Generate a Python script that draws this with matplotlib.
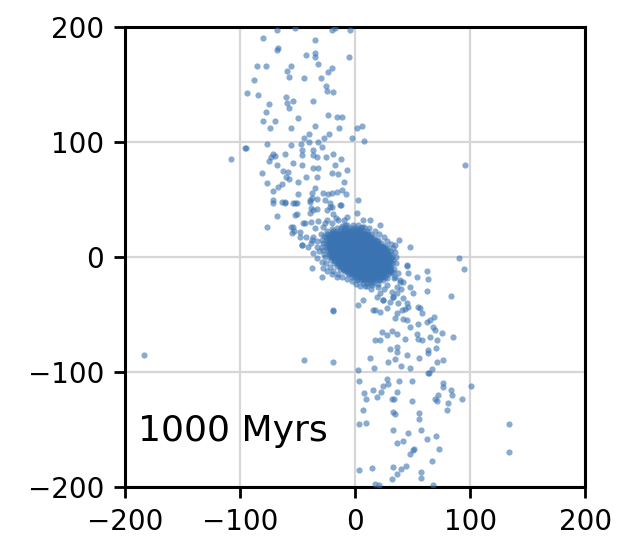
import matplotlib
matplotlib.use("Agg")
import matplotlib.pyplot as plt
import numpy as np

# outer points (x, y)
upper_arm = [
    (-68.1, 197.7), (-52.2, 198.9), (-20.3, 197.7), (-17.4, 198.9), (-4.3, 197.4),
    (-79.7, 190.2), (-34.8, 188.4), (-66.7, 182.0), (-68.1, 180.3), (-42.6, 175.7),
    (-34.8, 177.1), (-34.8, 174.2), (-4.9, 174.2), (-85.5, 166.1), (-77.7, 166.1),
    (-55.7, 166.1), (-58.8, 161.7), (-57.1, 156.8), (-31.9, 167.8), (-20.3, 164.6),
    (-23.7, 161.1), (-44.3, 155.4), (-29.8, 155.4), (-87.5, 153.6), (-25.2, 148.7),
    (-24.6, 144.3), (-18.9, 143.8), (-93.6, 142.3), (-84.1, 140.9), (-60.3, 139.4),
    (-54.2, 135.7), (-58.8, 134.2), (-57.1, 129.8), (-36.2, 135.7), (-74.5, 132.8),
    (-77.7, 126.4), (-23.7, 123.5), (-15.9, 121.7), (-11.0, 121.7), (-79.7, 118.6),
    (-69.6, 118.6), (-49.9, 120.9), (-73.9, 111.9), (-55.7, 112.2), (-34.8, 113.9),
    (-13.9, 112.2), (1.5, 111.9), (6.4, 113.9), (-39.7, 107.2), (-44.3, 103.7),
    (-22.3, 107.2), (-26.7, 103.7), (-2.9, 103.7), (8.1, 100.9), (-76.2, 98.5),
    (-47.2, 98.5), (-39.7, 99.7), (-31.9, 99.7), (-55.7, 97.4), (-96.0, 94.8),
    (-108.0, 85.0), (-81.0, 72.8), (-76.8, 64.6), (-76.8, 26.4),
    (-95.0, 94.5), (-29.0, 95.9), (-46.1, 93.0), (-36.2, 93.0), (-36.8, 88.7),
    (-46.4, 88.7), (-60.9, 89.6), (-71.0, 89.6), (-73.0, 87.2), (-69.6, 87.8),
    (-74.5, 83.8), (-68.1, 80.0), (-54.2, 81.4), (-45.8, 80.0), (-33.3, 86.7),
    (-25.2, 86.7), (-18.9, 89.6), (-12.2, 84.9), (-17.4, 80.0), (-36.2, 77.1),
    (-31.9, 77.1), (-62.9, 75.0), (-58.5, 74.2), (-42.6, 69.3), (-32.8, 69.3),
    (-20.3, 73.3), (-14.5, 72.2), (-6.7, 75.7), (-63.8, 63.5), (-66.7, 60.6),
    (-71.6, 57.7), (-60.0, 69.3), (-57.1, 67.8), (-49.3, 65.5), (-49.3, 54.8),
    (-37.1, 55.4), (-34.8, 59.7), (-28.1, 55.9), (-23.7, 54.8), (-20.3, 55.4),
    (-15.9, 56.8), (-11.0, 58.3), (-7.8, 54.8), (-9.3, 65.5), (-71.6, 49.6),
    (-71.6, 47.2), (-63.8, 48.1), (-60.9, 48.1), (-54.2, 46.7), (-50.7, 46.7),
    (-39.1, 49.6), (-37.1, 51.0), (-32.8, 50.2), (-26.1, 49.6), (-20.3, 43.8),
    (-21.7, 46.7), (-12.2, 45.2), (2.9, 49.6), (-50.7, 37.4), (-68.1, 35.7),
    (-38.3, 42.3), (-32.8, 41.7), (-39.1, 38.0), (-24.6, 40.9), (-18.9, 37.4),
    (-55.7, 25.8), (-52.8, 22.9), (-45.5, 29.9), (-38.3, 30.7), (-31.9, 31.3),
    (-24.6, 32.2), (-16.5, 33.6), (-9.3, 32.2), (-47.8, 17.7), (-42.6, 17.1),
    (-37.7, 14.8), (-45.8, 10.4), (-32.8, 8.4),
]

lower_arm = [
    (62.9, -11.9), (63.8, -19.4), (62.3, -29.3), (47.8, -26.4), (45.0, -7.8),
    (46.4, -14.2), (39.1, -21.4), (36.8, -31.6), (34.8, -17.7), (33.3, -12.8),
    (30.4, -9.0), (83.2, -33.9), (94.8, -10.7), (55.0, -43.8), (58.0, -48.4),
    (27.5, -44.6), (21.7, -47.5), (17.4, -46.1), (40.6, -46.1), (43.5, -45.5),
    (34.8, -53.3), (42.0, -54.2), (45.0, -54.8), (47.8, -61.2), (55.0, -58.3),
    (62.3, -56.2), (65.2, -54.8), (68.7, -51.9), (67.5, -60.6), (69.6, -63.5),
    (75.4, -65.8), (85.0, -69.3), (23.2, -64.9), (27.5, -67.8), (31.9, -64.1),
    (36.2, -66.9), (43.5, -71.3), (53.6, -66.9), (55.0, -71.3), (58.0, -72.2),
    (65.2, -69.3), (71.6, -72.2), (17.4, -72.2), (21.7, -72.2), (30.4, -80.3),
    (36.8, -78.5), (36.8, -82.3), (45.0, -85.2), (55.9, -88.1), (63.8, -80.9),
    (63.8, -83.8), (70.4, -78.8), (71.0, -91.0), (76.8, -89.6), (13.0, -88.1),
    (29.0, -91.0), (34.8, -88.9), (40.0, -94.8), (47.8, -96.0), (66.7, -97.7),
    (64.6, -100.6), (2.9, -41.7), (2.9, -98.3), (16.8, -96.0), (18.9, -35.0),
    (24.1, -37.4), (30.4, -38.9), (33.3, -35.0), (37.7, -39.7), (42.0, -36.0),
    (45.0, -40.3), (3.5, -107.6), (15.9, -115.7), (8.1, -118.5), (9.6, -123.5),
    (19.4, -122.0), (22.3, -117.1), (24.1, -112.2), (27.5, -106.1), (29.0, -110.4),
    (38.5, -107.6), (49.3, -107.6), (36.8, -117.1), (31.9, -123.5), (33.9, -123.5),
    (49.3, -125.2), (63.8, -101.1), (76.8, -109.3), (76.8, -113.3), (83.2, -115.7),
    (84.6, -120.0), (71.9, -120.0), (69.6, -123.5), (71.0, -125.0), (81.2, -126.7),
    (92.8, -123.5), (100.6, -112.2), (79.7, -133.0), (6.7, -133.0), (33.3, -135.0),
    (34.8, -136.5), (55.9, -135.9), (55.9, -140.9), (3.5, -145.5), (9.6, -144.1),
    (33.3, -150.4), (46.4, -153.3), (57.4, -150.4), (62.9, -158.3), (70.1, -155.4),
    (41.5, -160.0), (36.8, -161.5), (51.3, -166.4), (50.7, -167.8), (47.8, -171.3),
    (73.3, -166.4), (66.7, -177.4), (3.5, -185.2), (14.5, -183.7), (33.3, -182.3),
    (40.0, -184.6), (44.3, -181.4), (36.8, -188.7), (31.9, -193.3), (57.4, -186.7),
    (57.4, -191.6), (17.4, -196.8), (21.1, -198.3), (68.1, -198.3),
    (15.9, -46.1), (7.2, -37.4), (24.6, -37.4), (21.7, -31.6), (33.3, -34.5),
    (36.2, -25.8), (39.1, -20.0), (45.0, -7.0), (53.6, -17.1), (50.7, -31.6),
    (46.4, -43.2), (36.2, -49.0), (56.5, -44.6), (47.8, 9.0), (38.5, 14.8),
    (34.8, 10.4),
]

strays = [
    (-183.5, -85.0), (95.7, 80.0), (133.9, -145.5), (133.9, -169.6), (-44.3, -89.6),
    (-18.9, -91.6), (-18.9, -47.0), (90.7, -1.2), (-18.9, -46.0),
]

halo = [
    (-52.2, 46.7), (-60.9, 47.2), (-39.1, 48.1), (-21.7, 43.8), (-13.0, 45.2),
    (-36.2, 40.9), (-52.2, 36.5), (-43.5, 29.3), (-53.6, 26.4), (-55.0, 20.6),
    (-47.8, 22.0), (-36.2, 17.7), (-46.4, 10.4), (-40.6, 9.0), (-36.2, 3.2),
    (-33.3, -1.2), (-37.7, -9.8), (-27.5, -9.8), (-29.0, -17.1), (-15.9, -17.1),
    (21.7, 27.8), (13.0, 32.2), (7.2, 32.2), (5.8, 26.4), (-7.2, 35.1),
    (-8.7, 27.8), (1.4, 38.0), (30.0, -12.0), (34.0, -18.0), (28.0, -24.0),
    (37.0, -14.0), (25.0, -28.0), (32.0, -30.0), (20.0, -26.0), (14.0, -28.0),
    (10.0, -25.0), (40.0, -28.0), (42.0, -22.0), (-30.0, 20.0), (-28.0, 26.0),
    (-33.0, 14.0), (-26.0, 30.0), (-20.0, 30.0), (-15.0, 32.0), (-35.0, 25.0),
    (-38.0, 12.0), (-31.0, 5.0), (-29.0, -4.0), (-24.0, -12.0), (-20.0, -15.0),
]

# ragged rim of the dense core
rim = [
    (-27.0, 18.0), (-28.0, 12.0), (-27.5, 6.0), (-26.0, 0.0), (-25.0, -5.0),
    (-22.0, -9.0), (-19.0, -12.0), (-15.0, -15.0), (-11.0, -17.0), (-7.0, -19.0),
    (-3.0, -21.0), (1.0, -23.0), (4.0, -25.0), (9.0, -25.0), (15.0, -24.5),
    (20.0, -23.0), (24.0, -20.0), (28.0, -18.0), (31.0, -14.0), (34.0, -10.0),
    (35.5, -5.0), (36.0, 0.0), (35.0, 4.0), (33.0, 8.0), (31.0, 11.0),
    (28.0, 14.0), (25.0, 17.0), (21.0, 20.0), (17.0, 22.5), (12.0, 25.0),
    (8.0, 26.5), (3.0, 28.0), (-2.0, 28.0), (-7.0, 28.0), (-11.0, 27.0),
    (-16.0, 25.5), (-20.0, 24.5), (-24.0, 22.5), (-28.5, 15.0), (-29.0, 9.0),
    (-27.0, 3.0),
]

# dense core around the origin, one row per y value
core_rows = [
    (25.0, [-12, -8.5, -5, -1.5, 2, 5]),
    (23.75, [-10, -6.5, -3, 0.5, 3.5]),
    (22.5, [-19, -16, -12.5, -9, -6, -3, 0.5, 4, 7, 10]),
    (21.25, [-20, -17.5, -14, -10.5, -7.5, -4.5, -1, 2.5, 5.5, 8.5]),
    (20.0, [-24, -21, -17.5, -14.5, -11, -8, -4.5, -1.5, 2, 5, 8.5, 11.5, 14]),
    (18.75, [-23, -20, -16.5, -13, -10, -7, -4, -0.5, 3, 6, 9, 12]),
    (17.5, [-25, -22, -19, -15.5, -12.5, -9.5, -6, -3, 0, 3.5, 6.5, 10, 13, 16.5]),
    (16.25, [-23.5, -20, -17, -13.5, -10.5, -7.5, -4, -1, 2, 5, 8.5, 11.5, 15]),
    (15.0, [-24, -21, -17.5, -14.5, -11, -8, -5, -1.5, 1.5, 5, 8, 11.5, 14.5, 17.5, 20]),
    (13.75, [-23, -20, -16.5, -13, -10, -6.5, -3.5, 0, 3.5, 6.5, 10, 13, 16, 19]),
    (12.5, [-25, -22, -19, -16, -12.5, -9.5, -6.5, -3, 0, 3, 6.5, 9.5, 12.5, 16, 19, 22.5]),
    (11.25, [-23.5, -20.5, -17, -14, -11, -8, -4.5, -1.5, 1.5, 5, 8, 11, 14.5, 17.5, 21]),
    (10.0, [-24, -21, -17.5, -14.5, -11.5, -8, -5, -2, 1.5, 4.5, 8, 11, 14, 17.5, 20.5, 23.5, 26]),
    (8.75, [-22.5, -19.5, -16.5, -13, -10, -7, -4, -0.5, 2.5, 6, 9, 12, 15.5, 18.5, 21.5, 24.5]),
    (7.5, [-24.5, -21.5, -18.5, -15, -12, -9, -6, -2.5, 0.5, 3.5, 7, 10, 13, 16, 19.5, 22.5, 25.5, 28]),
    (6.25, [-22, -19, -16, -12.5, -9.5, -6.5, -3, 0, 3.5, 6.5, 9.5, 13, 16, 19, 22, 25.5, 28]),
    (5.0, [-23.5, -20.5, -17, -14, -11, -7.5, -4.5, -1.5, 2, 5, 8, 11.5, 14.5, 17.5, 21, 24, 27, 30]),
    (3.75, [-21.5, -18.5, -15.5, -12, -9, -6, -2.5, 0.5, 3.5, 7, 10, 13, 16.5, 19.5, 22.5, 26, 29]),
    (2.5, [-23, -20, -17, -13.5, -10.5, -7.5, -4, -1, 2, 5.5, 8.5, 11.5, 15, 18, 21, 24.5, 27.5, 31]),
    (1.25, [-21, -18, -14.5, -11.5, -8.5, -5.5, -2, 1, 4, 7.5, 10.5, 13.5, 17, 20, 23, 26.5, 29.5]),
    (0.0, [-22, -19, -15.5, -12.5, -9.5, -6, -3, 0, 3.5, 6.5, 9.5, 13, 16, 19, 22.5, 25.5, 28.5, 32]),
    (-1.25, [-19.5, -16.5, -13, -10, -7, -4, -0.5, 2.5, 6, 9, 12, 15.5, 18.5, 21.5, 25, 28, 31]),
    (-2.5, [-20.5, -17.5, -14, -11, -8, -5, -1.5, 1.5, 4.5, 8, 11, 14, 17.5, 20.5, 23.5, 27, 30, 33]),
    (-3.75, [-17, -14, -10.5, -7.5, -4.5, -1, 2, 5.5, 8.5, 11.5, 15, 18, 21, 24.5, 27.5, 30.5]),
    (-5.0, [-18, -15, -12, -8.5, -5.5, -2.5, 1, 4, 7, 10.5, 13.5, 16.5, 20, 23, 26, 29.5, 32.5]),
    (-6.25, [-15, -12, -8.5, -5.5, -2, 1, 4, 7.5, 10.5, 13.5, 17, 20, 23, 26.5, 29.5]),
    (-7.5, [-16, -13, -10, -7, -3.5, -0.5, 2.5, 6, 9, 12, 15.5, 18.5, 21.5, 25, 28, 31.5]),
    (-8.75, [-12.5, -9, -6, -2.5, 0.5, 3.5, 7, 10, 13, 16.5, 19.5, 22.5, 26, 29]),
    (-10.0, [-13.5, -10.5, -7.5, -4, -1, 2, 5.5, 8.5, 11.5, 15, 18, 21, 24.5, 27.5, 30.5]),
    (-11.25, [-9, -5.5, -2, 1, 4, 7.5, 10.5, 13.5, 17, 20, 23, 26.5]),
    (-12.5, [-10, -7, -3.5, -0.5, 2.5, 6, 9, 12, 15.5, 18.5, 21.5, 25, 28, 30]),
    (-13.75, [-5, -2, 1.5, 4.5, 7.5, 11, 14, 17, 20.5, 23.5, 26.5]),
    (-15.0, [-6.5, -3.5, 0, 3, 6, 9.5, 12.5, 15.5, 19, 22, 25, 28.5]),
    (-16.25, [-1, 2.5, 5.5, 8.5, 12, 15, 18, 21.5, 24.5]),
    (-17.5, [-2.5, 0.5, 4, 7, 10, 13.5, 16.5, 19.5, 23, 26]),
    (-18.75, [3, 6.5, 9.5, 12.5, 16, 19, 22]),
    (-20.0, [1.5, 5, 8, 11, 14.5, 17.5, 21]),
    (-22.5, [6.5, 10, 13, 16]),
]

label = "1000 Myrs"

core = [(x, y) for y, xs in core_rows for x in xs]
pts = np.array(upper_arm + lower_arm + strays + halo + rim + core)

fig = plt.figure(figsize=(3.17, 2.80), dpi=200)
ax = fig.add_axes([0.197, 0.130, 0.726, 0.822])

ax.scatter(pts[:, 0], pts[:, 1], s=5, color="#3a73b2", alpha=0.6,
           linewidths=0, zorder=3)

ax.set_xlim(-200, 200)
ax.set_ylim(-200, 200)
ax.set_xticks([-200, -100, 0, 100, 200])
ax.set_yticks([-200, -100, 0, 100, 200])
ax.grid(True, color="#d6d6d6", linewidth=0.8)
ax.set_axisbelow(True)
for sp in ax.spines.values():
    sp.set_linewidth(1.1)
ax.tick_params(labelsize=10, length=4, width=1.0)

ax.text(0.028, 0.1, label, transform=ax.transAxes, fontsize=13,
        va="baseline", ha="left", zorder=4)

fig.savefig("out.png", dpi=200)
